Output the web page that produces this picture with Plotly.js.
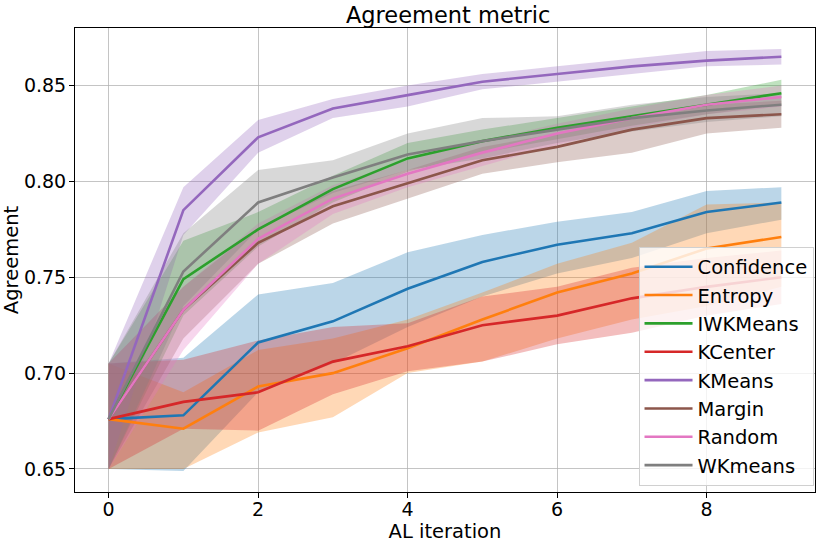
<!DOCTYPE html>
<html>
<head>
<meta charset="utf-8">
<script src="https://cdn.plot.ly/plotly-3.0.1.min.js"></script>
<style>
  body { margin: 0; background: #fff; }
  #chart { width: 830px; height: 543px; }
</style>
</head>
<body>
<div id="chart"></div>
<script>
// AL iterations
const iterations = [0, 1, 2, 3, 4, 5, 6, 7, 8, 9];

// strategy names, same order as the legend
const strategies = ["Confidence", "Entropy", "IWKMeans", "KCenter", "KMeans", "Margin", "Random", "WKmeans"];
const colors = ["#1f77b4", "#ff7f0e", "#2ca02c", "#d62728", "#9467bd", "#8c564b", "#e377c2", "#7f7f7f"];

// mean agreement per iteration
const confidenceMean = [0.676, 0.678, 0.716, 0.727, 0.744, 0.758, 0.767, 0.773, 0.784, 0.789];
const entropyMean    = [0.676, 0.671, 0.693, 0.700, 0.713, 0.728, 0.742, 0.752, 0.765, 0.771];
const iwkmeansMean   = [0.676, 0.749, 0.775, 0.796, 0.812, 0.821, 0.828, 0.834, 0.840, 0.846];
const kcenterMean    = [0.676, 0.685, 0.690, 0.706, 0.714, 0.725, 0.730, 0.739, 0.745, 0.750];
const kmeansMean     = [0.676, 0.785, 0.823, 0.838, 0.845, 0.852, 0.856, 0.860, 0.863, 0.865];
const marginMean     = [0.676, 0.733, 0.768, 0.787, 0.799, 0.811, 0.818, 0.827, 0.833, 0.835];
const randomMean     = [0.676, 0.733, 0.770, 0.791, 0.804, 0.815, 0.825, 0.833, 0.840, 0.844];
const wkmeansMean    = [0.676, 0.753, 0.789, 0.802, 0.814, 0.821, 0.827, 0.833, 0.837, 0.840];

// upper edge of the shaded band
const confidenceUpper = [0.705, 0.708, 0.741, 0.747, 0.763, 0.772, 0.779, 0.784, 0.795, 0.797];
const entropyUpper    = [0.705, 0.690, 0.712, 0.718, 0.728, 0.742, 0.757, 0.768, 0.788, 0.789];
const iwkmeansUpper   = [0.705, 0.769, 0.784, 0.803, 0.820, 0.827, 0.833, 0.839, 0.845, 0.853];
const kcenterUpper    = [0.705, 0.707, 0.717, 0.724, 0.726, 0.740, 0.745, 0.755, 0.760, 0.764];
const kmeansUpper     = [0.705, 0.797, 0.832, 0.843, 0.850, 0.856, 0.860, 0.864, 0.868, 0.869];
const marginUpper     = [0.705, 0.745, 0.776, 0.795, 0.806, 0.818, 0.825, 0.833, 0.840, 0.842];
const randomUpper     = [0.705, 0.745, 0.778, 0.798, 0.811, 0.821, 0.830, 0.838, 0.845, 0.850];
const wkmeansUpper    = [0.705, 0.773, 0.806, 0.811, 0.825, 0.833, 0.834, 0.840, 0.844, 0.846];

// lower edge of the shaded band
const confidenceLower = [0.650, 0.649, 0.690, 0.705, 0.724, 0.740, 0.752, 0.760, 0.773, 0.780];
const entropyLower    = [0.650, 0.650, 0.669, 0.677, 0.700, 0.706, 0.718, 0.728, 0.735, 0.745];
const iwkmeansLower   = [0.650, 0.730, 0.766, 0.789, 0.805, 0.815, 0.822, 0.829, 0.835, 0.840];
const kcenterLower    = [0.650, 0.671, 0.670, 0.689, 0.701, 0.706, 0.715, 0.721, 0.730, 0.736];
const kmeansLower     = [0.650, 0.772, 0.815, 0.833, 0.839, 0.848, 0.852, 0.856, 0.860, 0.861];
const marginLower     = [0.650, 0.718, 0.757, 0.778, 0.791, 0.804, 0.810, 0.815, 0.825, 0.828];
const randomLower     = [0.650, 0.712, 0.757, 0.783, 0.797, 0.808, 0.819, 0.828, 0.835, 0.839];
const wkmeansLower    = [0.650, 0.735, 0.775, 0.794, 0.806, 0.812, 0.820, 0.826, 0.831, 0.834];

const means  = [confidenceMean, entropyMean, iwkmeansMean, kcenterMean, kmeansMean, marginMean, randomMean, wkmeansMean];
const uppers = [confidenceUpper, entropyUpper, iwkmeansUpper, kcenterUpper, kmeansUpper, marginUpper, randomUpper, wkmeansUpper];
const lowers = [confidenceLower, entropyLower, iwkmeansLower, kcenterLower, kmeansLower, marginLower, randomLower, wkmeansLower];

function hexToRgba(hex, alpha){
    const r = parseInt(hex.slice(1, 3), 16);
    const g = parseInt(hex.slice(3, 5), 16);
    const b = parseInt(hex.slice(5, 7), 16);
    return "rgba(" + r + "," + g + "," + b + "," + alpha + ")";
}

// shaded bands first (closed polygons), so every mean line sits on top of them
var data = [];
strategies.forEach((name, i) => {
    data.push({
        x: iterations.concat(iterations.slice().reverse()),
        y: uppers[i].concat(lowers[i].slice().reverse()),
        type: "scatter",
        mode: "lines",
        fill: "toself",
        fillcolor: hexToRgba(colors[i], 0.3),
        line: {width: 0, color: hexToRgba(colors[i], 0.3)},
        hoverinfo: "skip",
        showlegend: false
    });
});
// then the mean lines
strategies.forEach((name, i) => {
    data.push({
        x: iterations,
        y: means[i],
        name: name,
        type: "scatter",
        mode: "lines",
        line: {color: colors[i], width: 2.6}
    });
});

const axisStyle = {
    showline: true,
    linecolor: "#000",
    linewidth: 1,
    mirror: true,
    ticks: "outside",
    ticklen: 5,
    tickcolor: "#000",
    showgrid: true,
    gridcolor: "rgba(176,176,176,0.75)",
    gridwidth: 1,
    zeroline: false,
    tickfont: {size: 19, color: "#000"}
};

const layout = {
    width: 830,
    height: 543,
    margin: {l: 75, r: 15, t: 28, b: 51},
    paper_bgcolor: "#fff",
    plot_bgcolor: "#fff",
    font: {family: "DejaVu Sans", color: "#000"},
    title: {text: "Agreement metric", font: {size: 22.5}, x: 0.54, xanchor: "center", y: 0.972, yanchor: "middle"},
    xaxis: Object.assign({}, axisStyle, {
        range: [-0.45, 9.45],
        tickvals: [0, 2, 4, 6, 8],
        ticklabelstandoff: -5,
        title: {text: "AL iteration", font: {size: 19.5}, standoff: 4}
    }),
    yaxis: Object.assign({}, axisStyle, {
        range: [0.638, 0.880],
        tickvals: [0.65, 0.70, 0.75, 0.80, 0.85],
        tickformat: ".2f",
        ticklabelstandoff: -1,
        title: {text: "Agreement", font: {size: 19.5}, standoff: 8}
    }),
    legend: {
        x: 0.998,
        xanchor: "right",
        y: 0.014,
        yanchor: "bottom",
        bgcolor: "rgba(255,255,255,0.8)",
        bordercolor: "#d0d0d0",
        borderwidth: 1,
        font: {size: 19.5},
        itemwidth: 48,
        tracegroupgap: 0
    },
    showlegend: true
};

Plotly.newPlot("chart", data, layout, {displayModeBar: false, staticPlot: true});
</script>
</body>
</html>
